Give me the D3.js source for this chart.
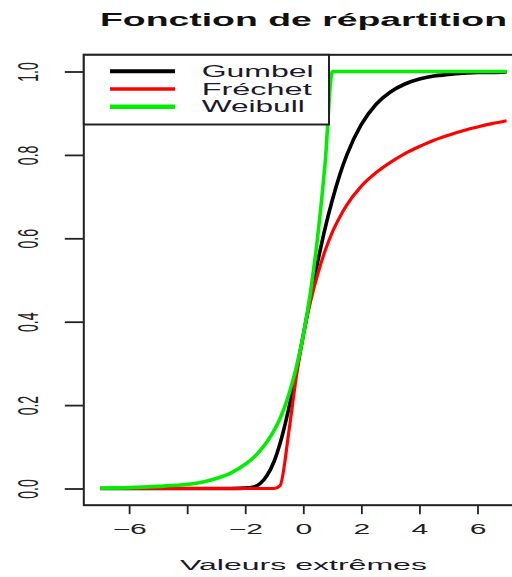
<!DOCTYPE html>
<html>
<head>
<meta charset="utf-8">
<script src="https://cdn.jsdelivr.net/npm/d3@7"></script>
<style>
  body { margin: 0; background: #fff; }
  svg { display: block; font-family: "Liberation Sans", Arial, sans-serif; }
</style>
</head>
<body>
<svg id="chart" width="512" height="577"></svg>
<script>
const xValues = [-7, -6, -5, -4, -3.5, -3, -2.5, -2, -1.75, -1.5, -1.25, -1, -0.8, -0.5, -0.25,
  0, 0.25, 0.5, 0.75, 1, 1.25, 1.5, 2, 2.5, 3, 3.5, 4, 4.5, 5, 5.5, 6, 6.5, 7];
const gumbel = [0, 0, 0, 0, 0, 0, 0, 0.001, 0.003, 0.011, 0.031, 0.066, 0.108, 0.192, 0.277,
  0.368, 0.459, 0.545, 0.624, 0.692, 0.751, 0.8, 0.873, 0.921, 0.951, 0.97, 0.982, 0.989, 0.993, 0.996, 0.998, 0.998, 0.999];
const frechet = [0, 0, 0, 0, 0, 0, 0, 0, 0, 0, 0, 0, 0.007, 0.135, 0.264,
  0.368, 0.449, 0.515, 0.57, 0.615, 0.65, 0.68, 0.725, 0.757, 0.782, 0.803, 0.82, 0.835, 0.847, 0.858, 0.867, 0.875, 0.882];
const weibull = [0.001, 0.002, 0.005, 0.01, 0.015, 0.024, 0.037, 0.058, 0.072, 0.09, 0.112, 0.14, 0.168, 0.225, 0.288,
  0.368, 0.472, 0.607, 0.779, 1, 1, 1, 1, 1, 1, 1, 1, 1, 1, 1, 1, 1, 1];

const seriesNames = ["Gumbel", "Fréchet", "Weibull"];
const xTicks = [-6, -4, -2, 0, 2, 4, 6];
const xTickLabels = ["−6", "", "−2", "0", "2", "4", "6"];
const yTicks = [0, 0.2, 0.4, 0.6, 0.8, 1];
const yTickLabels = ["0.0", "0.2", "0.4", "0.6", "0.8", "1.0"];
const chartTitle = "Fonction de répartition";
const xTitle = "Valeurs extrêmes";

const COLORS = { Gumbel: "#000000", "Fréchet": "#ff0000", Weibull: "#00ee00" };
const SERIES = { Gumbel: gumbel, "Fréchet": frechet, Weibull: weibull };
const LINE_W = { Gumbel: 3.6, "Fréchet": 3.2, Weibull: 3.6 };
const LEGEND_W = { Gumbel: 4, "Fréchet": 3.5, Weibull: 4.5 };
const LEGEND_TEXT_LEN = { Gumbel: 112, "Fréchet": 110, Weibull: 103 };
const SX = 2.15; // the picture is stretched sideways
const AXIS_COLOR = "#222";

const svg = d3.select("#chart");

const x = d3.scaleLinear().domain([-6, 6]).range([129.1, 477.5]);
const y = d3.scaleLinear().domain([0, 1]).range([488.5, 71.5]);

// plot region = data range plus 4% (R style)
const boxLeft = x(-7.56);
const boxRight = x(7.56);
const boxTop = y(1.04);
const boxBottom = y(-0.04);

// curves: Gumbel, then Fréchet, then Weibull on top
const line = d3.line()
  .x((d) => x(d[0]))
  .y((d) => y(d[1]))
  .curve(d3.curveMonotoneX);

seriesNames.forEach((name) => {
  const pts = xValues.map((v, i) => [v, SERIES[name][i]]);
  svg.append("path")
    .datum(pts)
    .attr("fill", "none")
    .attr("stroke", COLORS[name])
    .attr("stroke-width", LINE_W[name])
    .attr("stroke-linejoin", "round")
    .attr("d", line);
});

// x axis
const xAxis = svg.append("g")
  .attr("transform", `translate(0,${boxBottom})`)
  .call(d3.axisBottom(x).tickValues(xTicks).tickFormat((d, i) => xTickLabels[i]).tickSize(9).tickPadding(10));
xAxis.select(".domain").remove();
xAxis.selectAll("line").attr("stroke", AXIS_COLOR).attr("stroke-width", 1.8);
xAxis.selectAll("text")
  .attr("fill", AXIS_COLOR)
  .attr("font-size", 14)
  .attr("font-family", "Liberation Sans, Arial, sans-serif")
  .attr("transform", `scale(${SX},1)`);

// y axis
const yAxis = svg.append("g")
  .attr("transform", `translate(${boxLeft},0)`)
  .call(d3.axisLeft(y).tickValues(yTicks).tickFormat((d, i) => yTickLabels[i]).tickSize(19));
yAxis.select(".domain").remove();
yAxis.selectAll("line").attr("stroke", AXIS_COLOR).attr("stroke-width", 1.8);
yAxis.selectAll("text")
  .attr("x", null)
  .attr("dy", "0.36em")
  .attr("text-anchor", "middle")
  .attr("fill", AXIS_COLOR)
  .attr("font-size", 14)
  .attr("font-family", "Liberation Sans, Arial, sans-serif")
  .attr("transform", `translate(${27 - boxLeft},0) scale(${SX},1) rotate(-90)`);

// box
svg.append("rect")
  .attr("x", boxLeft)
  .attr("y", boxTop)
  .attr("width", boxRight - boxLeft)
  .attr("height", boxBottom - boxTop)
  .attr("fill", "none")
  .attr("stroke", AXIS_COLOR)
  .attr("stroke-width", 2);

// legend
const legend = svg.append("g");
legend.append("rect")
  .attr("x", boxLeft)
  .attr("y", boxTop)
  .attr("width", 329 - boxLeft)
  .attr("height", 124.5 - boxTop)
  .attr("fill", "#fff")
  .attr("stroke", AXIS_COLOR)
  .attr("stroke-width", 2);

const legendY = d3.scalePoint().domain(seriesNames).range([71.3, 106.7]);
seriesNames.forEach((name) => {
  legend.append("line")
    .attr("x1", 110)
    .attr("x2", 175)
    .attr("y1", legendY(name))
    .attr("y2", legendY(name))
    .attr("stroke", COLORS[name])
    .attr("stroke-width", LEGEND_W[name]);
  legend.append("text")
    .attr("x", 201.7)
    .attr("y", legendY(name))
    .attr("dy", "0.36em")
    .attr("font-size", 16)
    .attr("fill", "#1a1a2a")
    .attr("textLength", LEGEND_TEXT_LEN[name])
    .attr("lengthAdjust", "spacingAndGlyphs")
    .text(name);
});

// titles
svg.append("text")
  .attr("x", 303.5)
  .attr("y", 26)
  .attr("text-anchor", "middle")
  .attr("font-size", 18)
  .attr("font-weight", "bold")
  .attr("fill", "#111")
  .attr("textLength", 407)
  .attr("lengthAdjust", "spacingAndGlyphs")
  .text(chartTitle);

svg.append("text")
  .attr("x", 303.5)
  .attr("y", 570)
  .attr("text-anchor", "middle")
  .attr("font-size", 14)
  .attr("fill", "#1a1a2a")
  .attr("textLength", 247)
  .attr("lengthAdjust", "spacingAndGlyphs")
  .text(xTitle);
</script>
</body>
</html>
